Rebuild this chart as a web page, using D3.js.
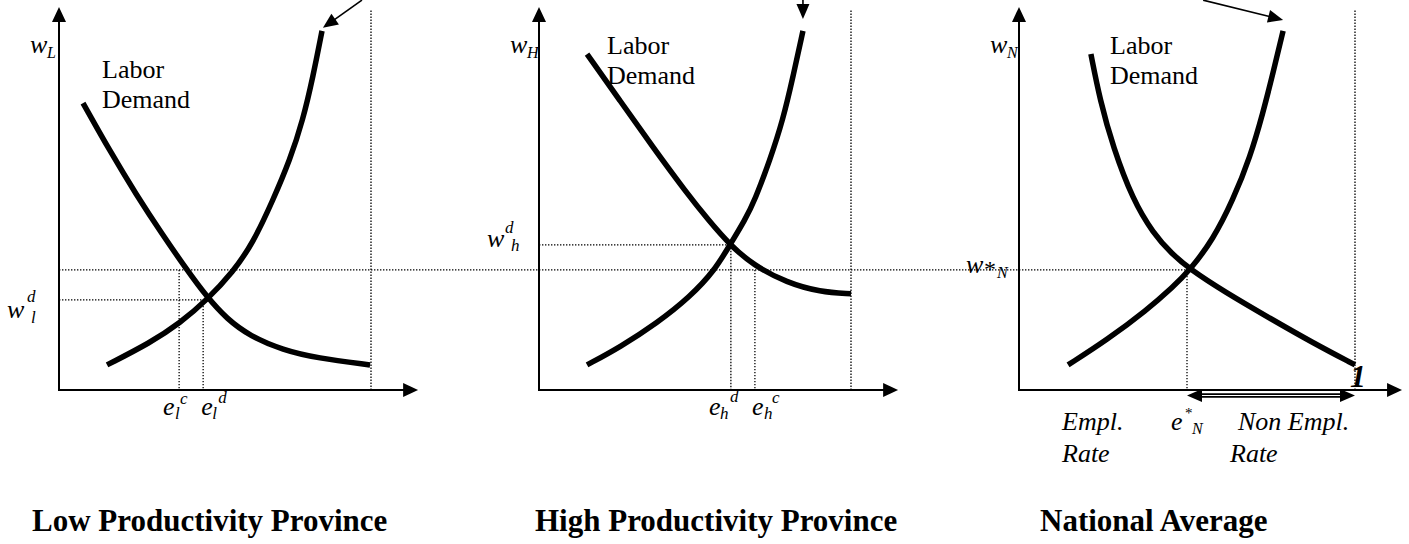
<!DOCTYPE html>
<html><head><meta charset="utf-8">
<script src="https://cdn.jsdelivr.net/npm/d3@7"></script>
<style>
body{margin:0;background:#fff}
svg{display:block}
</style>
</head><body>
<svg id="c" width="1409" height="544"></svg>
<script>
// ---------------- DATA (employment rate 0..1, wage 0..100) ----------------
const titles = ["Low Productivity Province", "High Productivity Province", "National Average"];

const supplyLow  = [[0.154,6.6],[0.292,12.4],[0.388,17.6],[0.474,23.7],[0.558,31.1],[0.622,38.7],[0.686,50.0],[0.740,60.5],[0.782,71.1],[0.814,82.4],[0.843,94.5]];
const demandLow  = [[0.077,75.5],[0.163,62.9],[0.250,51.1],[0.330,41.1],[0.410,31.6],[0.474,24.5],[0.538,18.7],[0.612,14.2],[0.718,10.5],[0.827,8.4],[0.997,6.6]];

const supplyHigh = [[0.154,6.6],[0.260,11.3],[0.378,17.6],[0.484,24.5],[0.564,31.6],[0.612,38.2],[0.660,44.7],[0.692,50.0],[0.740,60.5],[0.782,71.1],[0.814,82.4],[0.846,94.5]];
const demandHigh = [[0.154,88.4],[0.260,76.1],[0.365,63.9],[0.471,52.1],[0.545,44.5],[0.612,38.2],[0.686,32.9],[0.795,28.2],[0.901,25.8],[1.0,25.3]];

const supplyNat  = [[0.146,6.6],[0.262,13.2],[0.381,21.1],[0.458,27.1],[0.509,31.6],[0.577,39.5],[0.637,50.0],[0.688,61.3],[0.726,72.9],[0.756,83.4],[0.786,94.5]];
const demandNat  = [[0.214,88.4],[0.241,76.3],[0.280,63.9],[0.339,50.0],[0.399,41.3],[0.455,35.8],[0.509,31.8],[0.607,26.1],[0.756,18.4],[0.875,12.4],[1.0,6.6]];

const wStar = 31.6;          // national wage w*_N
const wLowD = 23.7;          // w^d_l
const wHighD = 38.2;         // w^d_h
const eLowC = 0.385, eLowD = 0.462;
const eHighD = 0.615, eHighC = 0.692;
const eStarN = 0.5;
const fullEmp = 1;           // the "1" line
// top annotation arrows: [start, tip]
const noteArrows = [[[0.971,102.6],[0.846,95.3]], [[0.846,102.6],[0.846,97.6]], [[0.548,102.6],[0.786,97.4]]];

// ---------------- SCALES ----------------
const FONT = "'Liberation Serif', 'Times New Roman', Tinos, 'DejaVu Serif', serif";
const svg = d3.select("#c");
const ys = d3.scaleLinear().domain([0,100]).range([390,10]);
const xsList = [
  d3.scaleLinear().domain([0,1]).range([59,371]),
  d3.scaleLinear().domain([0,1]).range([539,851]),
  d3.scaleLinear().domain([0,1]).range([1019,1355])
];
const axisEnd = [1.151, 1.151, 1.14];
const yAxisTop = 100.8;

function arrowHead(g, tip, from, len, half){
  const dx = tip[0]-from[0], dy = tip[1]-from[1];
  const L = Math.hypot(dx,dy), ux = dx/L, uy = dy/L;
  const bx = tip[0]-ux*len, by = tip[1]-uy*len;
  g.append("path").attr("d", `M${tip[0]},${tip[1]}L${bx-uy*half},${by+ux*half}L${bx+uy*half},${by-ux*half}Z`).attr("fill","#000");
}
function dotted(g, x1,y1,x2,y2){
  g.append("line").attr("x1",x1).attr("y1",y1).attr("x2",x2).attr("y2",y2)
    .attr("stroke","#000").attr("stroke-width",1.3).attr("stroke-dasharray","1.4 1.6");
}
function txt(g, x, y, s, size, opts={}){
  return g.append("text").attr("x",x).attr("y",y).text(s)
    .attr("font-family", FONT)
    .attr("font-size", size)
    .attr("font-style", opts.italic ? "italic" : "normal")
    .attr("font-weight", opts.bold ? "bold" : "normal")
    .attr("fill", "#000");
}

const g = svg.append("g");
const curves = [[supplyLow,demandLow],[supplyHigh,demandHigh],[supplyNat,demandNat]];

// w* horizontal dotted line spanning all panels
dotted(g, xsList[0](0), ys(wStar), xsList[2](eStarN), ys(wStar));

curves.forEach((c,i)=>{
  const xs = xsList[i];
  dotted(g, xs(fullEmp), ys(0), xs(fullEmp), ys(100));
  const x0 = xs(0), y0 = ys(0);
  const xt = xs(axisEnd[i]), yt = ys(yAxisTop);
  g.append("line").attr("x1",x0).attr("y1",y0+1).attr("x2",x0).attr("y2",yt+12).attr("stroke","#000").attr("stroke-width",2);
  g.append("line").attr("x1",x0-1).attr("y1",y0).attr("x2",xt-12).attr("y2",y0).attr("stroke","#000").attr("stroke-width",2);
  arrowHead(g,[x0,yt],[x0,y0],15,7);
  arrowHead(g,[xt,y0],[x0,y0],15,7);
  const line = d3.line().x(d=>xs(d[0])).y(d=>ys(d[1])).curve(d3.curveBasis);
  c.forEach(data=>{
    g.append("path").attr("d", line(data)).attr("fill","none").attr("stroke","#000").attr("stroke-width",5.5);
  });
  const a = noteArrows[i];
  const s = [xs(a[0][0]), ys(a[0][1])], t = [xs(a[1][0]), ys(a[1][1])];
  const dx=t[0]-s[0], dy=t[1]-s[1], L=Math.hypot(dx,dy);
  g.append("line").attr("x1",s[0]).attr("y1",s[1]).attr("x2",t[0]-dx/L*12).attr("y2",t[1]-dy/L*12).attr("stroke","#000").attr("stroke-width",1.6);
  arrowHead(g,t,s,15,6.5);
  txt(g, [32,535,1040][i], 531, titles[i], 31, {bold:true});
  const ld = [[102,78],[607,54],[1110,54]][i];
  txt(g, ld[0], ld[1], "Labor", 26);
  txt(g, ld[0], ld[1]+30, "Demand", 26);
});

// ---- panel 1 guide lines & labels
{
  const xs = xsList[0];
  dotted(g, xs(0), ys(wLowD), xs(eLowD), ys(wLowD));
  dotted(g, xs(eLowC), ys(wStar), xs(eLowC), ys(0));
  dotted(g, xs(eLowD), ys(wLowD), xs(eLowD), ys(0));
  txt(g, 30, 53, "w", 26, {italic:true}); txt(g, 47, 58, "L", 16, {italic:true});
  txt(g, 7, 318, "w", 26, {italic:true}); txt(g, 27, 302, "d", 17, {italic:true}); txt(g, 31, 323, "l", 17, {italic:true});
  txt(g, xs(eLowC)-16, 415, "e", 26, {italic:true}); txt(g, xs(eLowC)-4, 419, "l", 17, {italic:true}); txt(g, xs(eLowC)+1, 404, "c", 17, {italic:true});
  txt(g, xs(eLowD)-2, 415, "e", 26, {italic:true}); txt(g, xs(eLowD)+9, 419, "l", 17, {italic:true}); txt(g, xs(eLowD)+15, 403, "d", 17, {italic:true});
}
// ---- panel 2
{
  const xs = xsList[1];
  dotted(g, xs(0), ys(wHighD), xs(eHighD), ys(wHighD));
  dotted(g, xs(eHighD), ys(wHighD), xs(eHighD), ys(0));
  dotted(g, xs(eHighC), ys(wStar), xs(eHighC), ys(0));
  txt(g, 510, 53, "w", 26, {italic:true}); txt(g, 527, 58, "H", 16, {italic:true});
  txt(g, 487, 247, "w", 26, {italic:true}); txt(g, 505, 233, "d", 17, {italic:true}); txt(g, 511, 251, "h", 17, {italic:true});
  txt(g, xs(eHighD)-22, 415, "e", 26, {italic:true}); txt(g, xs(eHighD)-11, 419, "h", 17, {italic:true}); txt(g, xs(eHighD)-1, 402, "d", 17, {italic:true});
  txt(g, xs(eHighC)-3, 415, "e", 26, {italic:true}); txt(g, xs(eHighC)+9, 419, "h", 17, {italic:true}); txt(g, xs(eHighC)+17, 403, "c", 17, {italic:true});
}
// ---- panel 3
{
  const xs = xsList[2];
  dotted(g, xs(eStarN), ys(wStar), xs(eStarN), ys(0));
  txt(g, 990, 53, "w", 26, {italic:true}); txt(g, 1007, 58, "N", 16, {italic:true});
  txt(g, 966, 273, "w", 26, {italic:true}); txt(g, 984, 277, "*", 24); txt(g, 997, 278, "N", 16, {italic:true});
  const ya = 395.5, xa = xs(eStarN), xb = xs(fullEmp);
  g.append("line").attr("x1",xa+10).attr("y1",ya).attr("x2",xb-10).attr("y2",ya).attr("stroke","#000").attr("stroke-width",4.5);
  g.append("line").attr("x1",xa+10).attr("y1",ya).attr("x2",xb-10).attr("y2",ya).attr("stroke","#fff").attr("stroke-width",1);
  arrowHead(g,[xa,ya],[xb,ya],15,6.5);
  arrowHead(g,[xb,ya],[xa,ya],15,6.5);
  txt(g, xs(fullEmp)-5, 387, "1", 32, {italic:true, bold:true});
  txt(g, 1062, 430, "Empl.", 26, {italic:true});
  txt(g, 1062, 462, "Rate", 26, {italic:true});
  txt(g, xs(eStarN)-16, 430, "e", 26, {italic:true}); txt(g, xs(eStarN)-2, 418, "*", 15); txt(g, xs(eStarN)+5, 434, "N", 16, {italic:true});
  txt(g, 1238, 430, "Non Empl.", 26, {italic:true});
  txt(g, 1230, 462, "Rate", 26, {italic:true});
}
</script>
</body></html>
